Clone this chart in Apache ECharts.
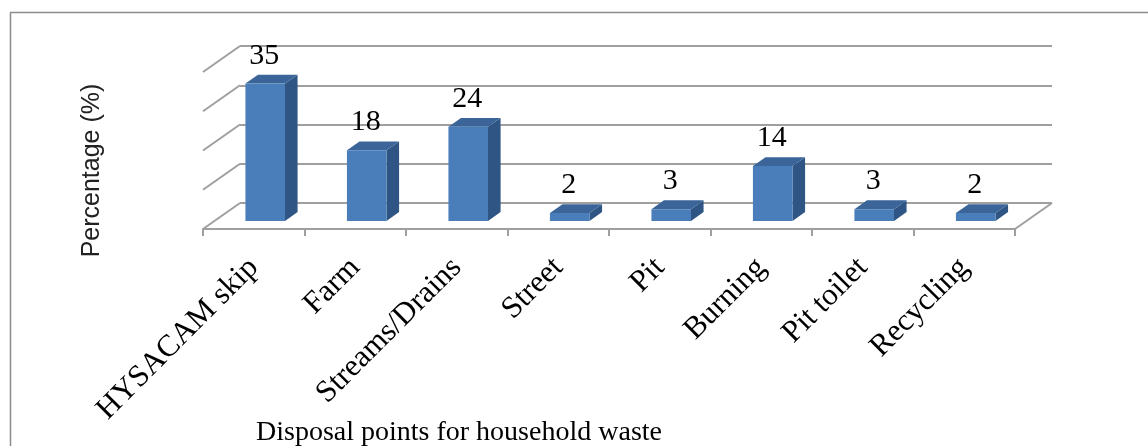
<!DOCTYPE html>
<html>
<head>
<meta charset="utf-8">
<script src="https://cdn.jsdelivr.net/npm/echarts@6/dist/echarts.min.js"></script>
<style>
  html, body { margin: 0; padding: 0; background: #fff; }
  #chart { width: 1148px; height: 446px; }
</style>
</head>
<body>
<div id="chart"></div>
<script>
// Disposal points for household waste (% of households)
const categories = ['HYSACAM skip', 'Farm', 'Streams/Drains', 'Street', 'Pit', 'Burning', 'Pit toilet', 'Recycling'];
const percentages = [35, 18, 24, 2, 3, 14, 3, 2];
const yTicks = [0, 10, 20, 30, 40];

// Pseudo-3D layout: back wall grid plus a floor that recedes up and to the right
const DEPTH_X = -37;   // back wall -> front edge, horizontal shift
const DEPTH_Y = 26;    // back wall -> front edge, vertical shift
const BAR_FRONT = 0.69; // bar front face position along the depth (0 = back wall, 1 = front edge)
const BAR_BACK = 0.35;
const BAR_WIDTH = 0.39; // fraction of a category band

const WALL = { left: 240, top: 46, width: 812, height: 157 };

const SERIF = '"Liberation Serif", "Times New Roman", serif';
const SANS = '"Liberation Sans", Arial, sans-serif';
const GRID_COLOR = '#9f9f9f';

const chart = echarts.init(document.getElementById('chart'), null, { renderer: 'canvas' });

function renderWallLines(params, api) {
  const v = api.value(0);
  const band = api.size([1, 0])[0];
  const p = api.coord([0, v]);
  const leftX = p[0] - band / 2;
  const children = [{
    type: 'line',
    shape: { x1: leftX, y1: p[1], x2: leftX + DEPTH_X, y2: p[1] + DEPTH_Y },
    style: { stroke: GRID_COLOR, lineWidth: 2 }
  }];
  if (v === 0) {
    const q = api.coord([categories.length - 1, 0]);
    const rightX = q[0] + band / 2;
    children.push({
      type: 'line',
      shape: { x1: rightX, y1: q[1], x2: rightX + DEPTH_X, y2: q[1] + DEPTH_Y },
      style: { stroke: GRID_COLOR, lineWidth: 2 }
    });
  }
  return { type: 'group', children };
}

function renderBar(params, api) {
  const i = api.value(0);
  const v = api.value(1);
  const top = api.coord([i, v]);
  const base = api.coord([i, 0]);
  const band = api.size([1, 0])[0];
  const w = band * BAR_WIDTH;
  const fx = BAR_FRONT * DEPTH_X, fy = BAR_FRONT * DEPTH_Y;
  const dx = (BAR_BACK - BAR_FRONT) * DEPTH_X, dy = (BAR_BACK - BAR_FRONT) * DEPTH_Y;
  const xl = top[0] + fx - w / 2;
  const xr = xl + w;
  const yt = top[1] + fy;
  const yb = base[1] + fy;
  return {
    type: 'group',
    children: [
      { // right side face
        type: 'polygon',
        shape: { points: [[xr, yt], [xr + dx, yt + dy], [xr + dx, yb + dy], [xr, yb]] },
        style: { fill: '#2f5585' }
      },
      { // top face
        type: 'polygon',
        shape: { points: [[xl, yt], [xr, yt], [xr + dx, yt + dy], [xl + dx, yt + dy]] },
        style: { fill: '#3b6598' }
      },
      { // front face
        type: 'rect',
        shape: { x: xl, y: yt, width: w, height: yb - yt },
        style: { fill: '#4a7ebb' }
      },
      { // value label
        type: 'text',
        style: {
          text: String(v),
          x: xl + w / 2 - 1,
          y: yt + dy - 4,
          align: 'center',
          verticalAlign: 'bottom',
          font: '30px ' + SERIF,
          fill: '#000'
        }
      }
    ]
  };
}

const option = {
  animation: false,
  backgroundColor: '#fff',
  grid: [
    { // back wall
      left: WALL.left, top: WALL.top, width: WALL.width, height: WALL.height,
      containLabel: false, outerBoundsMode: 'none'
    },
    { // front edge of the floor
      left: WALL.left + DEPTH_X, top: WALL.top + WALL.height, width: WALL.width, height: DEPTH_Y,
      containLabel: false, outerBoundsMode: 'none'
    }
  ],
  xAxis: [
    {
      gridIndex: 0, type: 'category', data: categories,
      axisLine: { show: false }, axisTick: { show: false }, axisLabel: { show: false },
      splitLine: { show: false }
    },
    {
      gridIndex: 1, type: 'category', data: categories, position: 'bottom',
      axisLine: { show: true, lineStyle: { color: GRID_COLOR, width: 2 } },
      axisTick: { show: true, length: 7, lineStyle: { color: GRID_COLOR, width: 2 } },
      axisLabel: {
        rotate: 45, margin: 34, interval: 0,
        fontFamily: SERIF, fontSize: 31, color: '#000'
      },
      name: 'Disposal points for household waste',
      nameLocation: 'middle', nameGap: 190, nameMoveOverlap: false,
      nameTextStyle: { fontFamily: SERIF, fontSize: 28, color: '#000', padding: [0, 300, 0, 0] }
    }
  ],
  yAxis: [
    {
      gridIndex: 0, type: 'value', min: 0, max: 40, interval: 10,
      axisLine: { show: false }, axisTick: { show: false }, axisLabel: { show: false },
      splitLine: { show: true, lineStyle: { color: GRID_COLOR, width: 2 } },
      name: 'Percentage (%)', nameLocation: 'middle', nameRotate: 90, nameGap: 135, nameMoveOverlap: false,
      nameTextStyle: { fontFamily: SANS, fontSize: 25, color: '#222', padding: [0, 92, 0, 0] }
    },
    {
      gridIndex: 1, type: 'value', min: 0, max: 1, show: false
    }
  ],
  graphic: [
    { // chart area frame
      type: 'rect', left: 8, top: 10, silent: true,
      shape: { x: 0, y: 0, width: 1300, height: 600 },
      style: { fill: 'none', stroke: '#8c8c8c', lineWidth: 1.5 }
    }
  ],
  series: [
    {
      type: 'custom', name: 'wall', xAxisIndex: 0, yAxisIndex: 0,
      data: yTicks.map(v => [v]),
      encode: { y: 0 },
      renderItem: renderWallLines, silent: true, z: 1
    },
    {
      type: 'custom', name: 'Percentage', xAxisIndex: 0, yAxisIndex: 0,
      data: percentages.map((v, i) => [i, v]),
      encode: { x: 0, y: 1 },
      renderItem: renderBar, z: 3
    }
  ]
};

chart.setOption(option);
</script>
</body>
</html>
